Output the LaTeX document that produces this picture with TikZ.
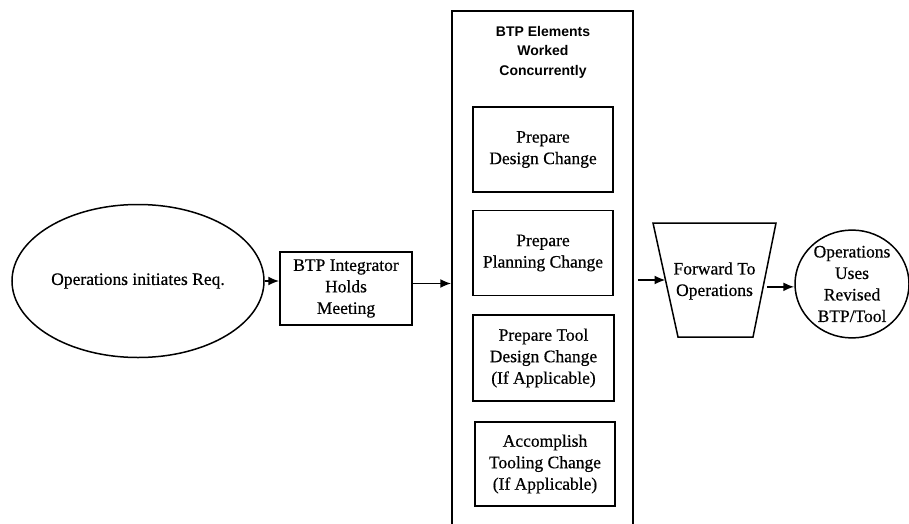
\documentclass[tikz,border=0pt]{standalone}
\usepackage{fontspec}
\setmainfont{Liberation Serif}[FakeBold=0.5]
\newfontfamily\titlefont{Liberation Sans}
\usetikzlibrary{arrows.meta,calc,shapes.geometric}
\begin{document}
\begin{tikzpicture}[x=1pt,y=-1pt,
  txt/.style={font=\fontsize{17.5}{21.5}\selectfont, align=center},
  box/.style={draw, line width=1.5pt, inner sep=0pt, txt},
  inbox/.style={box, minimum width=140pt, minimum height=85pt},
  oval/.style={draw, ellipse, line width=1.5pt, inner sep=0pt, txt},
  arr/.style={-{Latex[length=11pt,width=9pt]}, line width=1.8pt}]
\useasboundingbox (0,0) rectangle (909,524);
% left ellipse
\node[oval, minimum width=252pt, minimum height=153pt] (req) at (138,281) {Operations initiates Req.};
% integrator box
\node[box, minimum width=132pt, minimum height=73pt] (btp) at (346,288.5) {BTP Integrator\\Holds\\Meeting};
% big container (open at the bottom, cut by the page)
\node[draw, line width=1.5pt, minimum width=181pt, minimum height=549pt, inner sep=0pt] (big) at (542.5,285.5) {};
\node[font=\titlefont\bfseries\fontsize{14}{19.5}\selectfont, align=center] (title) at (543,52) {BTP Elements\\Worked\\Concurrently};
\node[inbox] (b1) at (543,149.5) {Prepare\\Design Change};
\node[inbox] (b2) at (543,253) {Prepare\\Planning Change};
\node[inbox, minimum width=141pt, minimum height=86pt] (b3) at (543.5,358) {Prepare Tool\\Design Change\\(If Applicable)};
\node[inbox, minimum width=140pt, minimum height=84pt] (b4) at (545,464) {Accomplish\\Tooling Change\\(If Applicable)};
% trapezoid
\coordinate (tl) at (653,223);
\coordinate (tr) at (776,223);
\coordinate (br) at (753,337);
\coordinate (bl) at (678,337);
\draw[line width=1.5pt, line join=miter] (tl) -- (tr) -- (br) -- (bl) -- cycle;
\node[txt] (fwd) at (714.5,281) {Forward To\\Operations};
\coordinate (trapL) at ($(tl)!0.5!(bl)$);
\coordinate (trapR) at ($(tr)!0.56!(br)$);
% right ellipse
\node[oval, minimum width=114pt, minimum height=106pt] (uses) at (852,284) {Operations\\Uses\\Revised\\BTP/Tool};
% connectors
\draw[arr] (req.east) -- (btp.west |- req.east);
\draw[arr] ($(btp.east)+(0,-5)$) -- (big.west |- {$(btp.east)+(0,-5)$});
\draw[arr] ([xshift=4pt]big.east |- trapL) -- (trapL);
\draw[arr] ([xshift=4pt]trapR) -- (uses.west |- trapR);
\end{tikzpicture}
\end{document}
